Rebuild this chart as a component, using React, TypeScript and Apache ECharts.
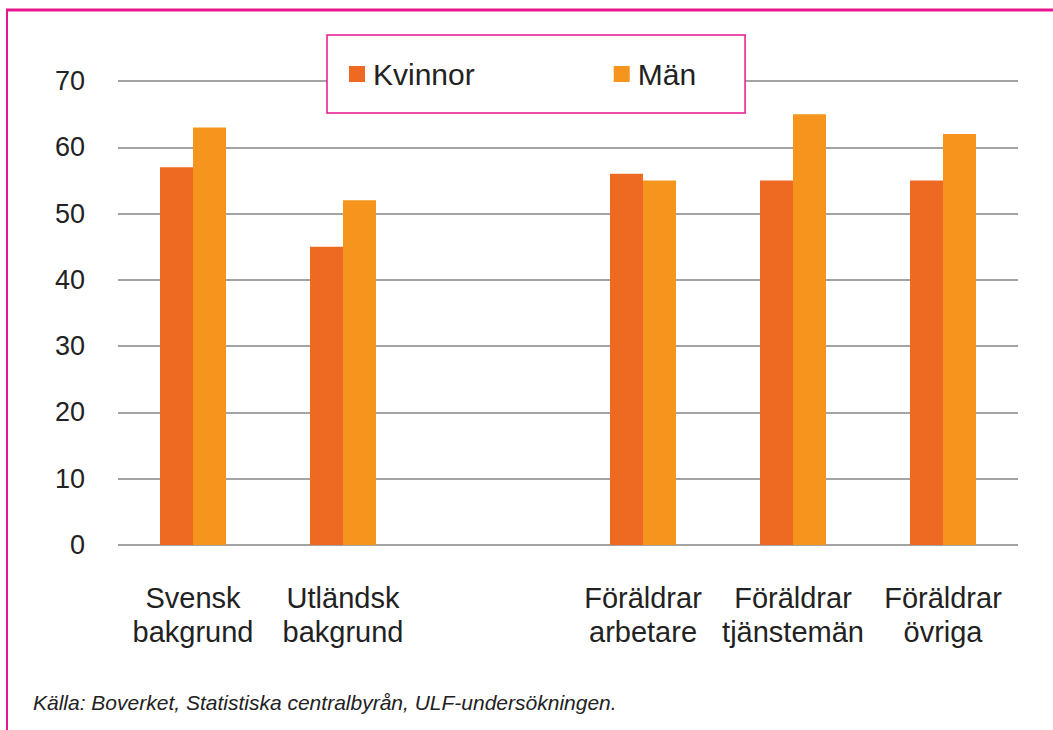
import React, { useEffect, useRef } from "react";
import * as echarts from "echarts";

const categories = [
  "Svensk\nbakgrund",
  "Utländsk\nbakgrund",
  "",
  "Föräldrar\narbetare",
  "Föräldrar\ntjänstemän",
  "Föräldrar\növriga",
];
const kvinnor: (number | null)[] = [57, 45, null, 56, 55, 55];
const man: (number | null)[] = [63, 52, null, 55, 65, 62];
const seriesNames = ["Kvinnor", "Män"];
const sourceText = "Källa: Boverket, Statistiska centralbyrån, ULF-undersökningen.";

const FONT = "'Liberation Sans', Arial, sans-serif";
const PINK = "#E8168C";

export default function App() {
  const ref = useRef<HTMLDivElement>(null);
  useEffect(() => {
    if (!ref.current) return;
    const chart = echarts.init(ref.current, null, { renderer: "svg" });
    chart.setOption({
      animation: false,
      backgroundColor: "#ffffff",
      textStyle: { fontFamily: FONT },
      grid: { left: 118, right: 35, top: 81, bottom: 185, containLabel: false },
      legend: {
        data: seriesNames,
        left: 327,
        top: 35,
        padding: [24, 49, 24, 22],
        itemWidth: 16,
        itemHeight: 16,
        itemGap: 139,
        icon: "rect",
        backgroundColor: "#ffffff",
        borderColor: PINK,
        borderWidth: 1.5,
        textStyle: { fontSize: 30, color: "#222", fontFamily: FONT, padding: [0, 0, 0, 3] },
        z: 10,
      },
      xAxis: {
        type: "category",
        data: categories,
        axisLine: { show: false },
        axisTick: { show: false },
        axisLabel: {
          fontSize: 29,
          color: "#222",
          lineHeight: 34,
          margin: 36,
          interval: 0,
          fontFamily: FONT,
        },
      },
      yAxis: {
        type: "value",
        min: 0,
        max: 70,
        interval: 10,
        axisLine: { show: false },
        axisTick: { show: false },
        axisLabel: { fontSize: 27, color: "#222", margin: 33, fontFamily: FONT },
        splitLine: { lineStyle: { color: "#a3a3a3", width: 2 } },
      },
      series: [
        {
          name: seriesNames[0],
          type: "bar",
          data: kvinnor,
          barWidth: 33,
          barGap: "0%",
          itemStyle: { color: "#EE6A22" },
        },
        {
          name: seriesNames[1],
          type: "bar",
          data: man,
          barWidth: 33,
          barGap: "0%",
          itemStyle: { color: "#F5951E" },
        },
      ],
      graphic: [
        {
          type: "line",
          shape: { x1: 6, y1: 10, x2: 1053, y2: 10 },
          style: { stroke: PINK, lineWidth: 3 },
        },
        {
          type: "line",
          shape: { x1: 7, y1: 9, x2: 7, y2: 730 },
          style: { stroke: PINK, lineWidth: 2 },
        },
        {
          type: "text",
          left: 33,
          top: 692,
          style: {
            text: sourceText,
            font: `italic 21px ${FONT}`,
            fill: "#222",
          },
        },
      ],
    });
    return () => chart.dispose();
  }, []);
  return (
    <div
      ref={ref}
      style={{ position: "fixed", left: 0, top: 0, width: 1053, height: 730 }}
    />
  );
}
